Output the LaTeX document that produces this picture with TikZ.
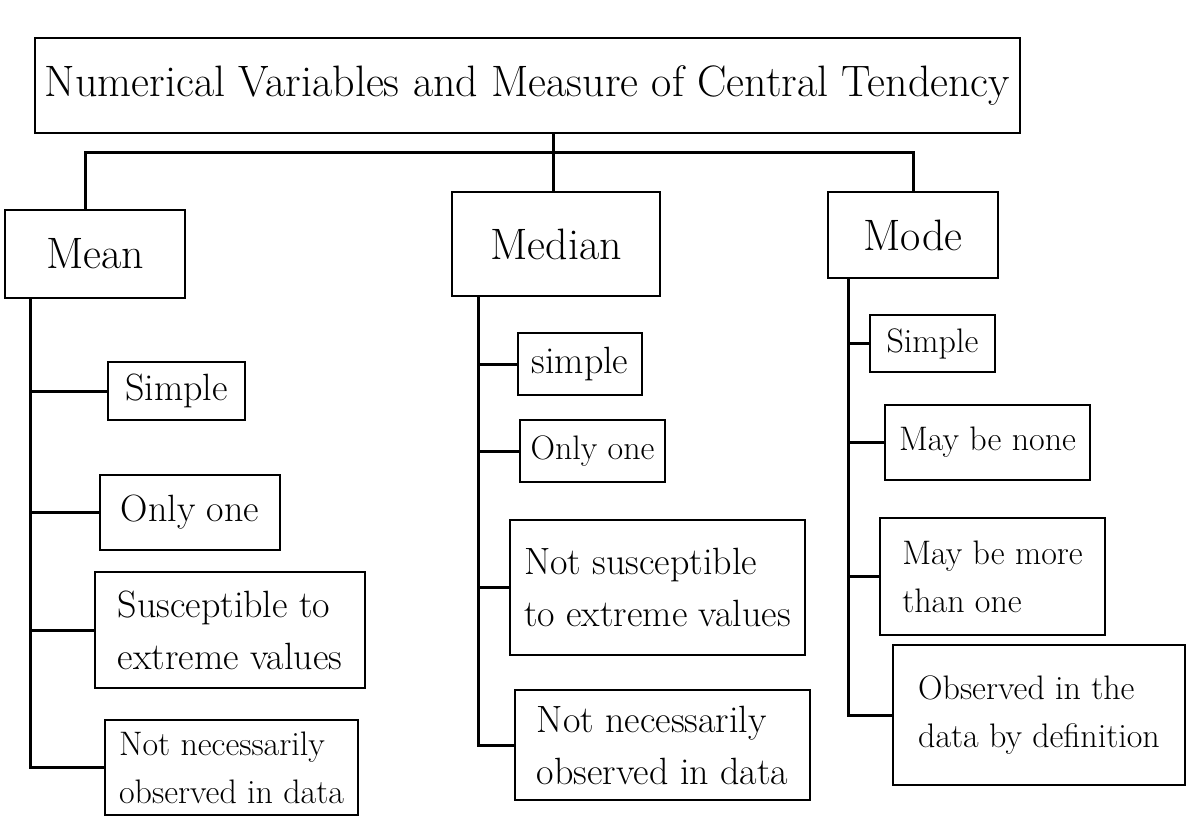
\documentclass[tikz,border=0pt]{standalone}
\usetikzlibrary{positioning}
\tikzset{
  box/.style={draw, line width=1.4pt, rectangle, inner sep=2pt, align=left},
  conn/.style={line width=1.5pt},
  bigtxt/.style={font=\fontsize{22}{26}\selectfont},
  midtxt/.style={font=\fontsize{19}{26}\selectfont},
  smalltxt/.style={font=\fontsize{17}{24}\selectfont}
}
\begin{document}
\begin{tikzpicture}[x=0.5pt,y=-0.5pt]
\useasboundingbox (0,0) rectangle (1196,831);
% title and headers
\node[box, bigtxt, minimum width=492.5pt, minimum height=47.5pt] (title) at (527.5,85.5) {Numerical Variables and Measure of Central Tendency};
\node[box, bigtxt, minimum width=90pt, minimum height=44pt] (mean) at (95,254) {Mean};
\node[box, bigtxt, minimum width=104pt, minimum height=52pt] (median) at (556,244) {Median};
\node[box, bigtxt, minimum width=85pt, minimum height=43pt] (mode) at (913,235) {Mode};
% mean children
\node[box, midtxt, minimum width=68.5pt, minimum height=29pt] (m1) at (176.5,391) {Simple};
\node[box, midtxt, minimum width=90pt, minimum height=37.5pt] (m2) at (190,512.5) {Only one};
\node[box, midtxt, minimum width=135pt, minimum height=58pt] (m3) at (230,630) {Susceptible to\\extreme values};
\node[box, smalltxt, minimum width=126.5pt, minimum height=47.5pt] (m4) at (231.5,767.5) {Not necessarily\\observed in data};
% median children
\node[box, midtxt, minimum width=62pt, minimum height=31pt] (d1) at (580,364) {simple};
\node[box, smalltxt, minimum width=72.5pt, minimum height=31pt] (d2) at (592.5,451) {Only one};
\node[box, midtxt, minimum width=147.5pt, minimum height=67.5pt] (d3) at (657.5,587.5) {Not susceptible\\to extreme values};
\node[box, midtxt, minimum width=147.5pt, minimum height=55pt] (d4) at (662.5,745) {Not necessarily\\observed in data};
% mode children
\node[box, smalltxt, minimum width=62.5pt, minimum height=28.5pt] (o1) at (932.5,343.5) {Simple};
\node[box, smalltxt, minimum width=102.5pt, minimum height=37.5pt] (o2) at (987.5,442.5) {May be none};
\node[box, smalltxt, minimum width=112.5pt, minimum height=58.5pt] (o3) at (992.5,576.5) {May be more\\than one};
\node[box, smalltxt, minimum width=146pt, minimum height=70pt] (o4) at (1039,715) {Observed in the\\data by definition};
% top connectors
\coordinate (tj) at (553,152);
\coordinate (lj) at (85,152);
\draw[conn] (title.south -| tj) -- (median.north -| tj);
\draw[conn] (mean.north -| lj) -- (lj) -| (mode.north);
% spines
\coordinate (ms) at (30,298);
\coordinate (ds) at (478,296);
\coordinate (os) at (848,278);
\draw[conn] (ms) |- (m4.west);
\foreach \n in {m1,m2,m3} \draw[conn] (ms |- \n.west) -- (\n.west);
\draw[conn] (ds) |- (d4.west);
\foreach \n in {d1,d2,d3} \draw[conn] (ds |- \n.west) -- (\n.west);
\draw[conn] (os) |- (o4.west);
\foreach \n in {o1,o2,o3} \draw[conn] (os |- \n.west) -- (\n.west);
\end{tikzpicture}
\end{document}
